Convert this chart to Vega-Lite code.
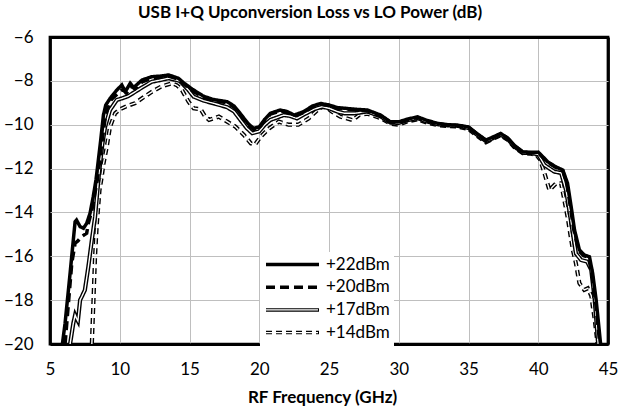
{
  "$schema": "https://vega.github.io/schema/vega-lite/v6.json",
  "autosize": {"type": "none"},
  "padding": {"left": 50, "top": 37, "right": 12, "bottom": 73},
  "width": 558,
  "height": 307,
  "background": "white",
  "title": {"text": "USB I+Q Upconversion Loss vs LO Power (dB)", "font": "Lato", "fontSize": 17, "fontWeight": "bold", "color": "black", "anchor": "middle", "dx": -19, "offset": 6},
  "config": {
    "view": {"stroke": "black", "strokeWidth": 2.75},
    "axis": {"grid": true, "gridColor": "#bfbfbf", "gridWidth": 1, "domain": false, "ticks": false, "labelFont": "Lato", "labelFontSize": 17, "labelColor": "black", "titleFont": "Lato", "titleFontSize": 17, "titleFontWeight": "bold", "titleColor": "black", "labelFlush": false}
  },
  "datasets": {
    "curves": [
      {"series":"+22dBm","freq":5.89,"loss":-20},{"series":"+22dBm","freq":6.08,"loss":-19.06},{"series":"+22dBm","freq":6.44,"loss":-16.78},{"series":"+22dBm","freq":6.67,"loss":-15.26},{"series":"+22dBm","freq":6.8,"loss":-14.42},{"series":"+22dBm","freq":6.9,"loss":-14.35},{"series":"+22dBm","freq":7.16,"loss":-14.65},{"series":"+22dBm","freq":7.4,"loss":-14.72},{"series":"+22dBm","freq":7.63,"loss":-14.5},{"series":"+22dBm","freq":7.87,"loss":-14.04},{"series":"+22dBm","freq":8.1,"loss":-13.28},{"series":"+22dBm","freq":8.3,"loss":-12.5},{"series":"+22dBm","freq":8.6,"loss":-10.9},{"series":"+22dBm","freq":8.83,"loss":-9.56},{"series":"+22dBm","freq":9.0,"loss":-9.1},{"series":"+22dBm","freq":9.31,"loss":-8.8},{"series":"+22dBm","freq":9.79,"loss":-8.42},{"series":"+22dBm","freq":10.15,"loss":-8.19},{"series":"+22dBm","freq":10.4,"loss":-8.49},{"series":"+22dBm","freq":10.75,"loss":-8.11},{"series":"+22dBm","freq":11.0,"loss":-8.3},{"series":"+22dBm","freq":11.2,"loss":-8.19},{"series":"+22dBm","freq":11.6,"loss":-7.96},{"series":"+22dBm","freq":12.3,"loss":-7.81},{"series":"+22dBm","freq":13.0,"loss":-7.78},{"series":"+22dBm","freq":13.5,"loss":-7.73},{"series":"+22dBm","freq":14.2,"loss":-7.88},{"series":"+22dBm","freq":14.6,"loss":-8.1},{"series":"+22dBm","freq":15.2,"loss":-8.38},{"series":"+22dBm","freq":16.0,"loss":-8.7},{"series":"+22dBm","freq":16.7,"loss":-8.85},{"series":"+22dBm","freq":17.7,"loss":-8.95},{"series":"+22dBm","freq":18.2,"loss":-9.15},{"series":"+22dBm","freq":18.65,"loss":-9.5},{"series":"+22dBm","freq":19.2,"loss":-9.95},{"series":"+22dBm","freq":19.6,"loss":-10.17},{"series":"+22dBm","freq":20.0,"loss":-10.1},{"series":"+22dBm","freq":20.4,"loss":-9.75},{"series":"+22dBm","freq":20.8,"loss":-9.48},{"series":"+22dBm","freq":21.5,"loss":-9.33},{"series":"+22dBm","freq":22.0,"loss":-9.4},{"series":"+22dBm","freq":22.5,"loss":-9.56},{"series":"+22dBm","freq":23.2,"loss":-9.4},{"series":"+22dBm","freq":23.8,"loss":-9.15},{"series":"+22dBm","freq":24.4,"loss":-9.03},{"series":"+22dBm","freq":25.0,"loss":-9.1},{"series":"+22dBm","freq":25.6,"loss":-9.22},{"series":"+22dBm","freq":26.3,"loss":-9.26},{"series":"+22dBm","freq":27.0,"loss":-9.3},{"series":"+22dBm","freq":27.75,"loss":-9.33},{"series":"+22dBm","freq":28.7,"loss":-9.56},{"series":"+22dBm","freq":29.4,"loss":-9.87},{"series":"+22dBm","freq":30.0,"loss":-9.87},{"series":"+22dBm","freq":30.6,"loss":-9.75},{"series":"+22dBm","freq":31.35,"loss":-9.64},{"series":"+22dBm","freq":32.0,"loss":-9.8},{"series":"+22dBm","freq":32.8,"loss":-9.94},{"series":"+22dBm","freq":33.5,"loss":-10.0},{"series":"+22dBm","freq":34.2,"loss":-10.02},{"series":"+22dBm","freq":35.0,"loss":-10.1},{"series":"+22dBm","freq":35.6,"loss":-10.4},{"series":"+22dBm","freq":36.25,"loss":-10.7},{"series":"+22dBm","freq":36.8,"loss":-10.55},{"series":"+22dBm","freq":37.3,"loss":-10.4},{"series":"+22dBm","freq":37.8,"loss":-10.6},{"series":"+22dBm","freq":38.3,"loss":-10.95},{"series":"+22dBm","freq":38.9,"loss":-11.24},{"series":"+22dBm","freq":39.5,"loss":-11.26},{"series":"+22dBm","freq":40.0,"loss":-11.25},{"series":"+22dBm","freq":40.68,"loss":-11.69},{"series":"+22dBm","freq":41.2,"loss":-11.9},{"series":"+22dBm","freq":41.76,"loss":-12.07},{"series":"+22dBm","freq":42.1,"loss":-12.67},{"series":"+22dBm","freq":42.36,"loss":-13.74},{"series":"+22dBm","freq":42.6,"loss":-14.8},{"series":"+22dBm","freq":42.95,"loss":-15.71},{"series":"+22dBm","freq":43.3,"loss":-15.94},{"series":"+22dBm","freq":43.67,"loss":-16.02},{"series":"+22dBm","freq":43.9,"loss":-16.78},{"series":"+22dBm","freq":44.15,"loss":-17.99},{"series":"+22dBm","freq":44.44,"loss":-19.82},{"series":"+22dBm","freq":44.47,"loss":-20},

      {"series":"+20dBm","freq":6.08,"loss":-20},{"series":"+20dBm","freq":6.3,"loss":-18.3},{"series":"+20dBm","freq":6.56,"loss":-16.32},{"series":"+20dBm","freq":6.8,"loss":-15.4},{"series":"+20dBm","freq":7.0,"loss":-15.3},{"series":"+20dBm","freq":7.27,"loss":-15.1},{"series":"+20dBm","freq":7.63,"loss":-14.95},{"series":"+20dBm","freq":7.75,"loss":-14.5},{"series":"+20dBm","freq":8.0,"loss":-13.9},{"series":"+20dBm","freq":8.2,"loss":-13.2},{"series":"+20dBm","freq":8.4,"loss":-12.5},{"series":"+20dBm","freq":8.7,"loss":-10.9},{"series":"+20dBm","freq":9.0,"loss":-9.5},{"series":"+20dBm","freq":9.4,"loss":-8.85},{"series":"+20dBm","freq":9.9,"loss":-8.55},{"series":"+20dBm","freq":10.2,"loss":-8.4},{"series":"+20dBm","freq":10.5,"loss":-8.55},{"series":"+20dBm","freq":10.8,"loss":-8.25},{"series":"+20dBm","freq":11.1,"loss":-8.35},{"series":"+20dBm","freq":11.6,"loss":-8.05},{"series":"+20dBm","freq":12.3,"loss":-7.88},{"series":"+20dBm","freq":13.0,"loss":-7.82},{"series":"+20dBm","freq":13.5,"loss":-7.78},{"series":"+20dBm","freq":14.2,"loss":-7.92},{"series":"+20dBm","freq":14.6,"loss":-8.15},{"series":"+20dBm","freq":15.2,"loss":-8.45},{"series":"+20dBm","freq":16.0,"loss":-8.75},{"series":"+20dBm","freq":16.7,"loss":-8.9},{"series":"+20dBm","freq":17.7,"loss":-9.0},{"series":"+20dBm","freq":18.2,"loss":-9.2},{"series":"+20dBm","freq":18.65,"loss":-9.55},{"series":"+20dBm","freq":19.2,"loss":-10.0},{"series":"+20dBm","freq":19.6,"loss":-10.22},{"series":"+20dBm","freq":20.0,"loss":-10.15},{"series":"+20dBm","freq":20.4,"loss":-9.8},{"series":"+20dBm","freq":20.8,"loss":-9.52},{"series":"+20dBm","freq":21.5,"loss":-9.37},{"series":"+20dBm","freq":22.0,"loss":-9.45},{"series":"+20dBm","freq":22.5,"loss":-9.6},{"series":"+20dBm","freq":23.2,"loss":-9.45},{"series":"+20dBm","freq":23.8,"loss":-9.2},{"series":"+20dBm","freq":24.4,"loss":-9.07},{"series":"+20dBm","freq":25.0,"loss":-9.13},{"series":"+20dBm","freq":25.6,"loss":-9.25},{"series":"+20dBm","freq":26.3,"loss":-9.3},{"series":"+20dBm","freq":27.0,"loss":-9.33},{"series":"+20dBm","freq":27.75,"loss":-9.37},{"series":"+20dBm","freq":28.7,"loss":-9.6},{"series":"+20dBm","freq":29.4,"loss":-9.9},{"series":"+20dBm","freq":30.0,"loss":-9.9},{"series":"+20dBm","freq":30.6,"loss":-9.78},{"series":"+20dBm","freq":31.35,"loss":-9.67},{"series":"+20dBm","freq":32.0,"loss":-9.83},{"series":"+20dBm","freq":32.8,"loss":-9.96},{"series":"+20dBm","freq":33.5,"loss":-10.02},{"series":"+20dBm","freq":34.2,"loss":-10.04},{"series":"+20dBm","freq":35.0,"loss":-10.12},{"series":"+20dBm","freq":35.6,"loss":-10.42},{"series":"+20dBm","freq":36.25,"loss":-10.72},{"series":"+20dBm","freq":36.8,"loss":-10.57},{"series":"+20dBm","freq":37.3,"loss":-10.42},{"series":"+20dBm","freq":37.8,"loss":-10.62},{"series":"+20dBm","freq":38.3,"loss":-10.97},{"series":"+20dBm","freq":38.9,"loss":-11.26},{"series":"+20dBm","freq":39.5,"loss":-11.28},{"series":"+20dBm","freq":40.0,"loss":-11.28},{"series":"+20dBm","freq":40.68,"loss":-11.72},{"series":"+20dBm","freq":41.2,"loss":-11.93},{"series":"+20dBm","freq":41.76,"loss":-12.1},{"series":"+20dBm","freq":42.05,"loss":-12.7},{"series":"+20dBm","freq":42.3,"loss":-13.74},{"series":"+20dBm","freq":42.55,"loss":-14.8},{"series":"+20dBm","freq":42.9,"loss":-15.75},{"series":"+20dBm","freq":43.25,"loss":-15.97},{"series":"+20dBm","freq":43.6,"loss":-16.05},{"series":"+20dBm","freq":43.85,"loss":-16.8},{"series":"+20dBm","freq":44.1,"loss":-18.0},{"series":"+20dBm","freq":44.38,"loss":-19.82},{"series":"+20dBm","freq":44.41,"loss":-20},

      {"series":"+17dBm","freq":6.44,"loss":-20},{"series":"+17dBm","freq":6.67,"loss":-19.06},{"series":"+17dBm","freq":6.8,"loss":-18.68},{"series":"+17dBm","freq":6.9,"loss":-18.83},{"series":"+17dBm","freq":7.0,"loss":-18.95},{"series":"+17dBm","freq":7.16,"loss":-17.99},{"series":"+17dBm","freq":7.28,"loss":-17.84},{"series":"+17dBm","freq":7.5,"loss":-17.54},{"series":"+17dBm","freq":7.75,"loss":-16.47},{"series":"+17dBm","freq":8.0,"loss":-15.26},{"series":"+17dBm","freq":8.23,"loss":-14.2},{"series":"+17dBm","freq":8.5,"loss":-12.3},{"series":"+17dBm","freq":8.75,"loss":-10.9},{"series":"+17dBm","freq":8.95,"loss":-10.1},{"series":"+17dBm","freq":9.3,"loss":-9.33},{"series":"+17dBm","freq":9.79,"loss":-8.87},{"series":"+17dBm","freq":10.15,"loss":-8.8},{"series":"+17dBm","freq":10.6,"loss":-8.7},{"series":"+17dBm","freq":11.1,"loss":-8.5},{"series":"+17dBm","freq":11.6,"loss":-8.3},{"series":"+17dBm","freq":12.3,"loss":-8.04},{"series":"+17dBm","freq":13.0,"loss":-7.95},{"series":"+17dBm","freq":13.5,"loss":-7.88},{"series":"+17dBm","freq":14.3,"loss":-8.0},{"series":"+17dBm","freq":14.9,"loss":-8.4},{"series":"+17dBm","freq":15.3,"loss":-8.72},{"series":"+17dBm","freq":16.0,"loss":-8.9},{"series":"+17dBm","freq":16.7,"loss":-9.02},{"series":"+17dBm","freq":17.7,"loss":-9.2},{"series":"+17dBm","freq":18.2,"loss":-9.4},{"series":"+17dBm","freq":18.65,"loss":-9.78},{"series":"+17dBm","freq":19.1,"loss":-10.15},{"series":"+17dBm","freq":19.5,"loss":-10.39},{"series":"+17dBm","freq":20.0,"loss":-10.3},{"series":"+17dBm","freq":20.4,"loss":-10.0},{"series":"+17dBm","freq":20.8,"loss":-9.78},{"series":"+17dBm","freq":21.76,"loss":-9.56},{"series":"+17dBm","freq":22.2,"loss":-9.6},{"series":"+17dBm","freq":22.7,"loss":-9.71},{"series":"+17dBm","freq":23.3,"loss":-9.5},{"series":"+17dBm","freq":23.9,"loss":-9.3},{"series":"+17dBm","freq":24.5,"loss":-9.18},{"series":"+17dBm","freq":25.0,"loss":-9.25},{"series":"+17dBm","freq":25.6,"loss":-9.4},{"series":"+17dBm","freq":26.1,"loss":-9.48},{"series":"+17dBm","freq":26.8,"loss":-9.48},{"series":"+17dBm","freq":27.75,"loss":-9.4},{"series":"+17dBm","freq":28.7,"loss":-9.62},{"series":"+17dBm","freq":29.4,"loss":-9.9},{"series":"+17dBm","freq":30.0,"loss":-9.92},{"series":"+17dBm","freq":30.6,"loss":-9.8},{"series":"+17dBm","freq":31.35,"loss":-9.7},{"series":"+17dBm","freq":32.0,"loss":-9.85},{"series":"+17dBm","freq":32.8,"loss":-9.98},{"series":"+17dBm","freq":33.5,"loss":-10.03},{"series":"+17dBm","freq":34.2,"loss":-10.05},{"series":"+17dBm","freq":35.0,"loss":-10.15},{"series":"+17dBm","freq":35.6,"loss":-10.45},{"series":"+17dBm","freq":36.25,"loss":-10.75},{"series":"+17dBm","freq":36.8,"loss":-10.6},{"series":"+17dBm","freq":37.3,"loss":-10.45},{"series":"+17dBm","freq":37.8,"loss":-10.65},{"series":"+17dBm","freq":38.3,"loss":-11.0},{"series":"+17dBm","freq":38.9,"loss":-11.28},{"series":"+17dBm","freq":39.5,"loss":-11.3},{"series":"+17dBm","freq":40.0,"loss":-11.35},{"series":"+17dBm","freq":40.44,"loss":-11.84},{"series":"+17dBm","freq":41.15,"loss":-12.14},{"series":"+17dBm","freq":41.64,"loss":-12.2},{"series":"+17dBm","freq":42.0,"loss":-13.0},{"series":"+17dBm","freq":42.35,"loss":-14.4},{"series":"+17dBm","freq":42.7,"loss":-15.87},{"series":"+17dBm","freq":43.07,"loss":-16.17},{"series":"+17dBm","freq":43.5,"loss":-16.24},{"series":"+17dBm","freq":43.8,"loss":-16.62},{"series":"+17dBm","freq":44.05,"loss":-17.99},{"series":"+17dBm","freq":44.27,"loss":-19.82},{"series":"+17dBm","freq":44.3,"loss":-20},

      {"series":"+14dBm","freq":8.0,"loss":-20},{"series":"+14dBm","freq":8.1,"loss":-18.3},{"series":"+14dBm","freq":8.23,"loss":-16.0},{"series":"+14dBm","freq":8.35,"loss":-14.6},{"series":"+14dBm","freq":8.55,"loss":-12.98},{"series":"+14dBm","freq":8.71,"loss":-12.37},{"series":"+14dBm","freq":8.83,"loss":-11.8},{"series":"+14dBm","freq":9.07,"loss":-11.0},{"series":"+14dBm","freq":9.3,"loss":-10.1},{"series":"+14dBm","freq":9.67,"loss":-9.48},{"series":"+14dBm","freq":10.0,"loss":-9.3},{"series":"+14dBm","freq":10.5,"loss":-9.15},{"series":"+14dBm","freq":11.1,"loss":-9.02},{"series":"+14dBm","freq":11.7,"loss":-8.75},{"series":"+14dBm","freq":12.3,"loss":-8.5},{"series":"+14dBm","freq":13.0,"loss":-8.25},{"series":"+14dBm","freq":13.74,"loss":-8.11},{"series":"+14dBm","freq":14.1,"loss":-8.2},{"series":"+14dBm","freq":14.46,"loss":-8.42},{"series":"+14dBm","freq":14.93,"loss":-8.95},{"series":"+14dBm","freq":15.3,"loss":-9.25},{"series":"+14dBm","freq":15.8,"loss":-9.3},{"series":"+14dBm","freq":16.1,"loss":-9.6},{"series":"+14dBm","freq":16.4,"loss":-9.78},{"series":"+14dBm","freq":17.1,"loss":-9.63},{"series":"+14dBm","freq":17.7,"loss":-9.86},{"series":"+14dBm","freq":18.3,"loss":-10.09},{"series":"+14dBm","freq":18.9,"loss":-10.47},{"series":"+14dBm","freq":19.4,"loss":-10.85},{"series":"+14dBm","freq":19.7,"loss":-10.9},{"series":"+14dBm","freq":20.1,"loss":-10.55},{"series":"+14dBm","freq":20.7,"loss":-10.17},{"series":"+14dBm","freq":21.4,"loss":-9.86},{"series":"+14dBm","freq":22.1,"loss":-10.0},{"series":"+14dBm","freq":22.8,"loss":-10.0},{"series":"+14dBm","freq":23.55,"loss":-9.71},{"series":"+14dBm","freq":24.3,"loss":-9.25},{"series":"+14dBm","freq":24.7,"loss":-9.15},{"series":"+14dBm","freq":25.2,"loss":-9.4},{"series":"+14dBm","freq":25.8,"loss":-9.63},{"series":"+14dBm","freq":26.7,"loss":-9.79},{"series":"+14dBm","freq":27.15,"loss":-9.56},{"series":"+14dBm","freq":27.75,"loss":-9.5},{"series":"+14dBm","freq":28.7,"loss":-9.7},{"series":"+14dBm","freq":29.4,"loss":-9.95},{"series":"+14dBm","freq":30.0,"loss":-10.0},{"series":"+14dBm","freq":30.6,"loss":-9.85},{"series":"+14dBm","freq":31.35,"loss":-9.75},{"series":"+14dBm","freq":32.0,"loss":-9.9},{"series":"+14dBm","freq":32.8,"loss":-10.02},{"series":"+14dBm","freq":33.5,"loss":-10.06},{"series":"+14dBm","freq":34.2,"loss":-10.08},{"series":"+14dBm","freq":35.0,"loss":-10.2},{"series":"+14dBm","freq":35.6,"loss":-10.5},{"series":"+14dBm","freq":36.25,"loss":-10.8},{"series":"+14dBm","freq":36.8,"loss":-10.63},{"series":"+14dBm","freq":37.3,"loss":-10.48},{"series":"+14dBm","freq":37.8,"loss":-10.68},{"series":"+14dBm","freq":38.3,"loss":-11.03},{"series":"+14dBm","freq":38.9,"loss":-11.3},{"series":"+14dBm","freq":39.5,"loss":-11.32},{"series":"+14dBm","freq":39.9,"loss":-11.4},{"series":"+14dBm","freq":40.14,"loss":-11.6},{"series":"+14dBm","freq":40.44,"loss":-12.2},{"series":"+14dBm","freq":40.8,"loss":-12.98},{"series":"+14dBm","freq":41.28,"loss":-12.67},{"series":"+14dBm","freq":41.64,"loss":-12.67},{"series":"+14dBm","freq":42.1,"loss":-14.2},{"series":"+14dBm","freq":42.48,"loss":-15.71},{"series":"+14dBm","freq":42.7,"loss":-16.32},{"series":"+14dBm","freq":42.95,"loss":-17.23},{"series":"+14dBm","freq":43.3,"loss":-17.53},{"series":"+14dBm","freq":43.55,"loss":-17.46},{"series":"+14dBm","freq":43.8,"loss":-17.8},{"series":"+14dBm","freq":44.05,"loss":-18.9},{"series":"+14dBm","freq":44.22,"loss":-19.82},{"series":"+14dBm","freq":44.25,"loss":-20}
    ]
  },
  "data": {"name": "curves"},
  "encoding": {
    "x": {"field": "freq", "type": "quantitative", "title": "RF Frequency  (GHz)", "scale": {"domain": [5, 45], "nice": false, "zero": false},
      "axis": {"values": [5, 10, 15, 20, 25, 30, 35, 40, 45], "labelPadding": 17, "titlePadding": 12, "titleX": 272,
        "gridColor": {"condition": {"test": "datum.value == 5 || datum.value == 45", "value": "black"}, "value": "#bfbfbf"},
        "gridWidth": {"condition": {"test": "datum.value == 5 || datum.value == 45", "value": 2.75}, "value": 1}}},
    "y": {"field": "loss", "type": "quantitative", "title": null, "scale": {"domain": [-20, -6], "nice": false, "zero": false},
      "axis": {"values": [-20, -18, -16, -14, -12, -10, -8, -6], "labelPadding": 17,
        "gridColor": {"condition": {"test": "datum.value == -20 || datum.value == -6", "value": "black"}, "value": "#bfbfbf"},
        "gridWidth": {"condition": {"test": "datum.value == -20 || datum.value == -6", "value": 2.75}, "value": 1}}}
  },
  "layer": [
    {
      "transform": [{"filter": {"field": "series", "equal": "+14dBm"}}],
      "mark": {"type": "line", "stroke": "black", "strokeWidth": 4.2, "clip": true},
      "encoding": {
        "strokeDash": {"field": "series", "type": "nominal", "sort": "descending", "scale": {"range": [[1, 0], [9, 5], [1, 0], [6, 4]]},
          "legend": {"orient": "none", "legendX": 210, "legendY": 215, "zindex": 1, "title": null, "symbolType": "stroke", "symbolSize": 2809, "clipHeight": 17, "symbolStrokeWidth": 3.5, "symbolStrokeColor": "black", "labelFont": "Lato", "labelFontSize": 17, "labelColor": "black", "labelOffset": 5, "rowPadding": 4.7, "padding": 4, "fillColor": "white"}}
      }
    },
    {
      "transform": [{"filter": {"field": "series", "equal": "+14dBm"}}],
      "mark": {"type": "line", "strokeWidth": 1.4, "clip": true},
      "encoding": {
        "strokeDash": {"field": "series", "type": "nominal", "sort": "descending"},
        "stroke": {"field": "series", "type": "nominal", "scale": {"domain": ["+22dBm", "+20dBm", "+17dBm", "+14dBm"], "range": ["transparent", "transparent", "white", "white"]},
          "legend": {"orient": "none", "legendX": 210, "legendY": 215, "zindex": 2, "title": null, "symbolType": "stroke", "symbolSize": 2809, "clipHeight": 17, "symbolStrokeWidth": 1.4, "labelExpr": "''", "labelFontSize": 17, "labelOffset": 5, "rowPadding": 4.7, "padding": 4}}
      }
    },
    {
      "transform": [{"filter": {"field": "series", "equal": "+17dBm"}}],
      "mark": {"type": "line", "stroke": "black", "strokeWidth": 4.2, "clip": true},
      "encoding": {"strokeDash": {"field": "series", "type": "nominal", "sort": "descending"}}
    },
    {
      "transform": [{"filter": {"field": "series", "equal": "+17dBm"}}],
      "mark": {"type": "line", "strokeWidth": 1.4, "clip": true},
      "encoding": {
        "strokeDash": {"field": "series", "type": "nominal", "sort": "descending"},
        "stroke": {"field": "series", "type": "nominal"}
      }
    },
    {
      "transform": [{"filter": {"field": "series", "equal": "+20dBm"}}],
      "mark": {"type": "line", "stroke": "black", "strokeWidth": 3.5, "clip": true},
      "encoding": {"strokeDash": {"field": "series", "type": "nominal", "sort": "descending"}}
    },
    {
      "transform": [{"filter": {"field": "series", "equal": "+22dBm"}}],
      "mark": {"type": "line", "stroke": "black", "strokeWidth": 3.5, "clip": true},
      "encoding": {"strokeDash": {"field": "series", "type": "nominal", "sort": "descending"}}
    }
  ]
}
